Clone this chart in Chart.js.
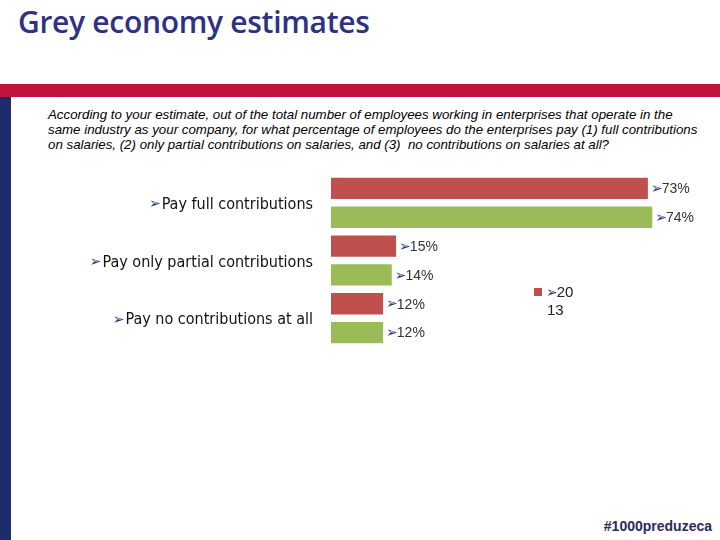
<!DOCTYPE html>
<html>
<head>
  <title>Grey economy estimates</title>
  <script src="https://cdn.jsdelivr.net/npm/chart.js"></script>
  <style>
    body { margin: 0; width: 720px; height: 540px; position: relative; overflow: hidden; background: #fff; }
    #title { position: absolute; left: 18px; top: 1px; font-family: "Open Sans", sans-serif; font-weight: 600; font-size: 30px; color: #2e3184; letter-spacing: -0.3px; }
    #band { position: absolute; left: 0; top: 84px; width: 720px; height: 13px; background: #c0143c; }
    #side { position: absolute; left: 0; top: 97px; width: 11px; height: 443px; background: #1c2b6b; }
    #question { position: absolute; left: 48px; top: 107px; font-family: "Liberation Sans", sans-serif; font-style: italic; font-size: 13.3px; line-height: 15px; color: #000; white-space: nowrap; }
    #footer { position: absolute; right: 8px; top: 518px; font-family: "Liberation Sans", Arial, sans-serif; font-weight: bold; font-size: 14px; color: #2b2a5e; }
    #wrap { position: absolute; left: 0; top: 160px; width: 720px; height: 220px; }
  </style>
</head>
<body>
  <div id="title">Grey economy estimates</div>
  <div id="band"></div>
  <div id="side"></div>
  <div id="question">According to your estimate, out of the total number of employees working in enterprises that operate in the<br>same industry as your company, for what percentage of employees do the enterprises pay (1) full contributions<br>on salaries, (2) only partial contributions on salaries, and (3)&nbsp; no contributions on salaries at all?</div>
  <div id="wrap"><canvas id="myChart"></canvas></div>
  <div id="footer">#1000preduzeca</div>

  <script>
    // data
    const categories = ['Pay full contributions', 'Pay only partial contributions', 'Pay no contributions at all'];
    const values2013 = [73, 15, 12];
    const valuesOther = [74, 14, 12];
    const seriesNames = ['2013', '2014'];

    const ARROW = '\u27A2';
    const arrowColor = '#1f3a7a';
    const arrowFont = '14px "DejaVu Sans"';

    // draws value labels, category labels and the single legend entry
    const labelsPlugin = {
      id: 'labels',
      afterDatasetsDraw(chart) {
        const ctx = chart.ctx;
        ctx.save();
        ctx.textBaseline = 'middle';

        // value labels
        chart.data.datasets.forEach((ds, di) => {
          chart.getDatasetMeta(di).data.forEach((bar, i) => {
            let x = bar.x + 3;
            ctx.font = arrowFont;
            ctx.fillStyle = arrowColor;
            ctx.textAlign = 'left';
            ctx.fillText(ARROW, x, bar.y + 1);
            x += ctx.measureText(ARROW).width - 1;
            ctx.font = '14px "Liberation Sans", Arial, sans-serif';
            ctx.fillStyle = '#333';
            ctx.fillText(ds.data[i] + '%', x, bar.y + 1);
          });
        });

        // category labels
        const yScale = chart.scales.y;
        categories.forEach((c, i) => {
          const y = yScale.getPixelForValue(i) + 2;
          ctx.font = '16px "DejaVu Sans Condensed", "DejaVu Sans", sans-serif';
          ctx.fillStyle = '#111';
          ctx.textAlign = 'right';
          ctx.fillText(c, 313, y);
          const w = ctx.measureText(c).width;
          ctx.font = arrowFont;
          ctx.fillStyle = arrowColor;
          ctx.fillText(ARROW, 313 - w - 1, y);
        });

        // legend (only first series shown, wrapped label)
        const ds0 = chart.data.datasets[0];
        const lx = 534, ly = 132;
        ctx.fillStyle = ds0.backgroundColor;
        ctx.fillRect(lx, ly - 4, 8, 8);
        ctx.textAlign = 'left';
        ctx.font = arrowFont;
        ctx.fillStyle = arrowColor;
        ctx.fillText(ARROW, lx + 12, ly + 1);
        const aw = ctx.measureText(ARROW).width;
        ctx.font = '15px "Liberation Sans", Arial, sans-serif';
        ctx.fillStyle = '#222';
        ctx.fillText(ds0.label.slice(0, 2), lx + 11 + aw, ly + 1);
        ctx.fillText(ds0.label.slice(2), lx + 13, ly + 19);

        ctx.restore();
      }
    };

    const ctx = document.getElementById('myChart').getContext('2d');
    const myChart = new Chart(ctx, {
      type: 'bar',
      data: {
        labels: categories,
        datasets: [{
          label: seriesNames[0],
          data: values2013,
          backgroundColor: '#c0504d'
        }, {
          label: seriesNames[1],
          data: valuesOther,
          backgroundColor: '#9bbb59'
        }]
      },
      options: {
        indexAxis: 'y',
        responsive: true,
        maintainAspectRatio: false,
        animation: false,
        categoryPercentage: 1.0,
        barPercentage: 0.74,
        layout: { padding: { left: 331, right: 20, top: 14, bottom: 33 } },
        scales: {
          x: { display: false, min: 0, max: 85 },
          y: { display: false }
        },
        plugins: {
          legend: { display: false },
          tooltip: { enabled: false }
        }
      },
      plugins: [labelsPlugin]
    });
  </script>
</body>
</html>
